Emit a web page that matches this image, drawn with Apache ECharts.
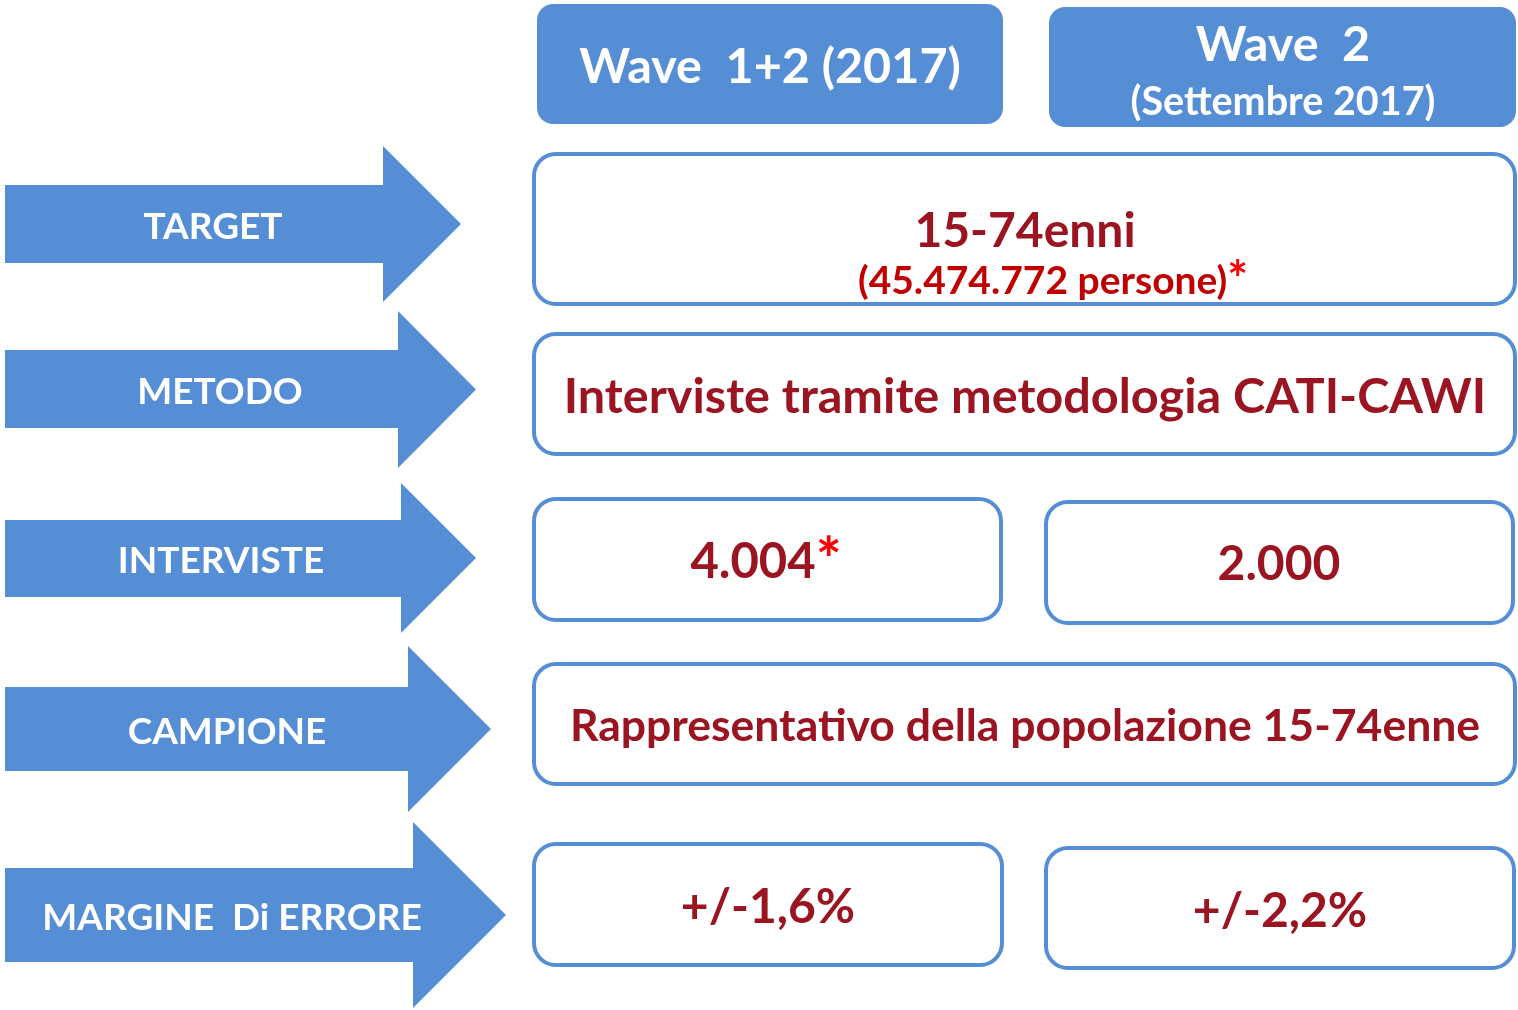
<!DOCTYPE html>
<html>
<head>
<meta charset="utf-8">
<script src="https://cdn.jsdelivr.net/npm/echarts@6/dist/echarts.min.js"></script>
<style>
html,body{margin:0;padding:0;background:#fff;}
#main{width:1518px;height:1010px;}
</style>
</head>
<body>
<div id="main"></div>
<script>
// ---- data ----
const rowLabels = ['TARGET', 'METODO', 'INTERVISTE', 'CAMPIONE', 'MARGINE  Di ERRORE'];
const waveHeader1 = ['Wave  1+2 (2017)'];
const waveHeader2 = ['Wave  2', '(Settembre 2017)'];
const targetMain = '15-74enni';
const targetSub = '(45.474.772 persone)';
const targetNote = '*';
const metodoText = 'Interviste tramite metodologia CATI-CAWI';
const intervisteValues = ['4.004', '2.000'];
const intervisteNotes = ['*', ''];
const campioneText = 'Rappresentativo della popolazione 15-74enne';
const margineValues = ['+/-1,6%', '+/-2,2%'];

// ---- layout / style ----
const BLUE = '#558ED5';
const DARKRED = '#9B1421';
const RED2 = '#C00000';
const STAR = '#FF0000';
const FONT = 'Lato, "Open Sans", sans-serif';

const arrowGeo = [
  {x0: 5, bt: 185, bb: 263, hx: 383, ht: 146, hb: 302, tip: 461, tx: 213},
  {x0: 5, bt: 350, bb: 428, hx: 398, ht: 311, hb: 468, tip: 476, tx: 220},
  {x0: 5, bt: 520, bb: 597, hx: 401, ht: 483, hb: 633, tip: 476, tx: 221},
  {x0: 5, bt: 687, bb: 771, hx: 408, ht: 646, hb: 812, tip: 491, tx: 227},
  {x0: 5, bt: 868, bb: 962, hx: 413, ht: 822, hb: 1008, tip: 506, tx: 232}
];

const elements = [];

function arrow(g, label) {
  const cy = (g.ht + g.hb) / 2;
  elements.push({
    type: 'polygon',
    shape: {points: [[g.x0, g.bt], [g.hx, g.bt], [g.hx, g.ht], [g.tip, cy], [g.hx, g.hb], [g.hx, g.bb], [g.x0, g.bb]]},
    style: {fill: BLUE, stroke: null}
  });
  elements.push({
    type: 'text', x: g.tx, y: (g.bt + g.bb) / 2 + 3,
    style: {text: label, fill: '#fff', font: 'bold 37px ' + FONT, align: 'center', verticalAlign: 'middle'}
  });
}
rowLabels.forEach((l, i) => arrow(arrowGeo[i], l));

function header(x, y, w, h) {
  elements.push({type: 'rect', shape: {x, y, width: w, height: h, r: 16}, style: {fill: BLUE}});
}
header(537, 4, 466, 120);
header(1049, 7, 467, 120);
elements.push({type: 'text', x: 770, y: 67, style: {text: waveHeader1[0], fill: '#fff', font: 'bold 48.5px ' + FONT, align: 'center', verticalAlign: 'middle'}});
elements.push({type: 'text', x: 1283, y: 45, style: {text: waveHeader2[0], fill: '#fff', font: 'bold 48.5px ' + FONT, align: 'center', verticalAlign: 'middle'}});
elements.push({type: 'text', x: 1283, y: 102, style: {text: waveHeader2[1], fill: '#fff', font: 'bold 39.5px ' + FONT, align: 'center', verticalAlign: 'middle'}});

function box(x, y, w, h) {
  elements.push({type: 'rect', shape: {x, y, width: w, height: h, r: 22}, style: {fill: '#fff', stroke: BLUE, lineWidth: 4}});
}
function txt(x, y, text, size, color) {
  elements.push({type: 'text', x, y, style: {text, fill: color, font: 'bold ' + size + 'px ' + FONT, align: 'center', verticalAlign: 'middle'}});
}
function richTxt(x, y, main, note, size, color) {
  elements.push({type: 'text', x, y, style: {
    text: '{a|' + main + '}' + (note ? '{b|' + note + '}' : ''),
    align: 'center', verticalAlign: 'middle',
    rich: {
      a: {fill: color, font: 'bold ' + size + 'px ' + FONT},
      b: {fill: STAR, font: 'bold ' + Math.round(size * 1.25) + 'px ' + FONT, verticalAlign: 'top'}
    }
  }});
}

// Row 1
box(534, 154, 981, 150);
txt(1025, 232, targetMain, 48, DARKRED);
richTxt(1053, 281, targetSub, targetNote, 39, RED2);
// Row 2
box(534, 334, 981, 120);
txt(1025, 397, metodoText, 48.6, DARKRED);
// Row 3
box(534, 499, 467, 121);
box(1046, 502, 467, 121);
richTxt(766, 562, intervisteValues[0], intervisteNotes[0], 49, DARKRED);
richTxt(1279, 565, intervisteValues[1], intervisteNotes[1], 48, DARKRED);
// Row 4
box(534, 664, 981, 120);
txt(1025, 727, campioneText, 44.5, DARKRED);
// Row 5
box(534, 844, 468, 121);
box(1046, 848, 468, 120);
txt(768, 908, margineValues[0], 48, DARKRED);
txt(1280, 912, margineValues[1], 48, DARKRED);

const chart = echarts.init(document.getElementById('main'), null, {renderer: 'canvas'});
chart.setOption({
  backgroundColor: '#fff',
  animation: false,
  graphic: {elements}
});
</script>
</body>
</html>
